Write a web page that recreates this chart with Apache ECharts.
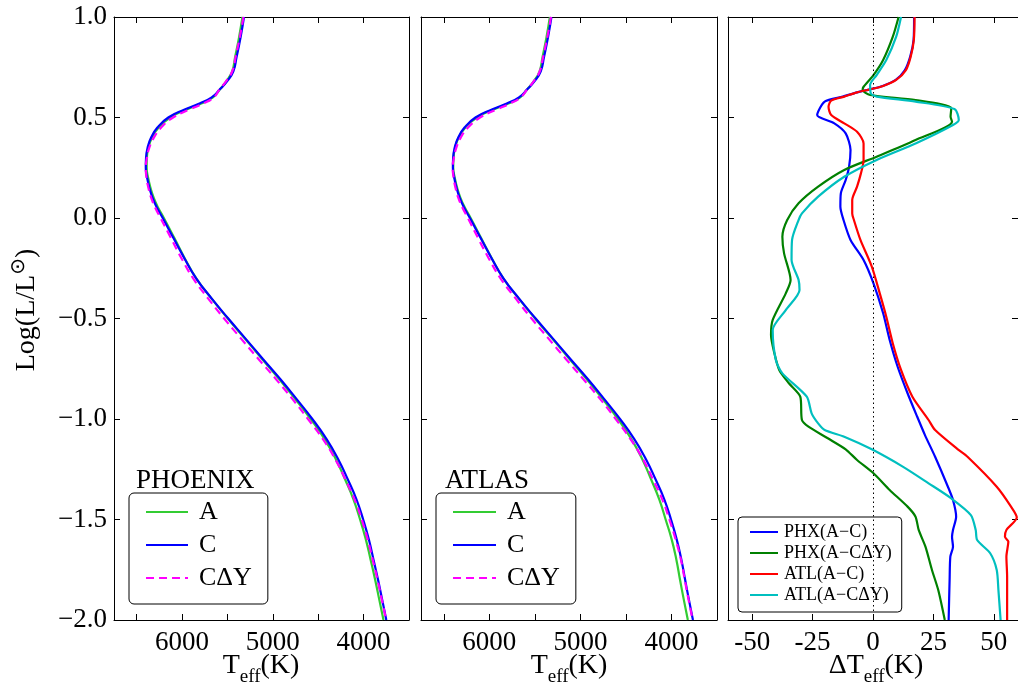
<!DOCTYPE html>
<html><head><meta charset="utf-8">
<script src="https://cdn.jsdelivr.net/npm/echarts@6/dist/echarts.min.js"></script>
<style>html,body{margin:0;padding:0;background:#fff}#c{width:1018px;height:690px}</style>
</head><body><div id="c"></div>
<script>
// ---- data ----
const logL = [1.0, 0.9, 0.8, 0.73, 0.68, 0.64, 0.6, 0.57, 0.54, 0.5,
  0.45, 0.4, 0.35, 0.3, 0.25, 0.2, 0.15, 0.1, 0.05, 0.0,
  -0.1, -0.2, -0.3, -0.4, -0.5, -0.6, -0.7, -0.8, -0.9, -1.0, -1.1, -1.2, -1.3, -1.4, -1.5, -1.6, -1.7, -1.8, -1.9, -2.0];
const phxA   = [5335,5372,5416,5448,5514,5583,5660,5788,5949,6131, 6258,6331,6371,6388,6390,6374,6348,6312,6262,6201,
  6085,5971,5844,5677,5496,5308,5121,4933,4755,4584,4430,4306,4205,4112,4039,3975,3923,3873,3827,3781];
const phxC   = [5318,5355,5400,5435,5505,5584,5674,5808,5971,6152, 6272,6341,6380,6397,6400,6385,6360,6325,6275,6213,
  6095,5975,5845,5675,5491,5301,5112,4921,4740,4565,4408,4280,4175,4079,4005,3942,3891,3841,3795,3750];
const phxCdY = [5324,5364,5411,5447,5516,5587,5652,5764,5917,6099, 6230,6311,6361,6387,6400,6392,6371,6340,6294,6237,
  6122,6007,5878,5714,5537,5350,5161,4969,4785,4613,4448,4313,4202,4100,4021,3955,3900,3847,3799,3751];
const atlA   = [5335,5372,5416,5448,5513,5583,5661,5790,5953,6137, 6263,6336,6376,6393,6396,6379,6353,6317,6266,6205,
  6090,5973,5846,5678,5497,5309,5122,4934,4757,4588,4440,4320,4224,4134,4064,3997,3946,3906,3864,3820];
const atlC   = [5318,5355,5400,5435,5505,5584,5674,5808,5971,6152, 6272,6341,6380,6397,6400,6385,6360,6325,6275,6213,
  6095,5975,5845,5675,5491,5301,5112,4921,4740,4565,4408,4280,4175,4079,4005,3942,3891,3850,3808,3764];
const atlCdY = [5323,5363,5410,5446,5513,5584,5657,5769,5919,6102, 6233,6314,6362,6389,6402,6392,6371,6340,6293,6235,
  6123,6007,5877,5711,5536,5350,5162,4971,4784,4612,4450,4313,4204,4101,4023,3954,3896,3854,3812,3767];

// Delta Teff panel: [dT, logL]
const phxAminusC = [[17.0,1.0],[16.8,0.886],[15.4,0.803],[13.2,0.736],[9.4,0.687],[4.0,0.657],[-1.2,0.64],[-6.6,0.625],
  [-12.5,0.604],[-20.0,0.579],[-23.1,0.512],[-16.0,0.471],[-11.3,0.421],[-9.3,0.338],[-9.9,0.255],[-11.3,0.189],
  [-13.3,0.123],[-13.5,0.056],[-12.2,-0.01],[-9.3,-0.109],[-3.9,-0.209],[0.2,-0.325],[4.2,-0.474],[6.9,-0.607],
  [10.2,-0.74],[14.3,-0.872],[18.3,-0.989],[21.5,-1.08],[25.7,-1.188],[31.0,-1.337],[33.1,-1.403],[34.4,-1.486],
  [33.1,-1.552],[32.7,-1.586],[33.1,-1.635],[32.0,-1.685],[31.7,-1.801],[31.3,-2.0]];
const phxAminusCdY = [[10.6,1.0],[8.2,0.902],[4.2,0.786],[0.2,0.711],[-3.9,0.653],[-4.3,0.637],[-1.2,0.612],[17.6,0.587],
  [32.4,0.546],[32.1,0.504],[32.7,0.479],[17.6,0.388],[1.5,0.305],[-11.9,0.239],[-22.7,0.156],[-30.8,0.073],
  [-35.5,-0.01],[-37.5,-0.093],[-36.8,-0.176],[-34.1,-0.308],[-36.1,-0.375],[-41.5,-0.507],[-42.2,-0.582],
  [-40.8,-0.673],[-38.8,-0.756],[-34.8,-0.822],[-30.1,-0.889],[-29.4,-1.005],[-26.7,-1.038],[-18.7,-1.096],
  [-11.3,-1.151],[-6.6,-1.204],[0.2,-1.27],[6.9,-1.353],[14.3,-1.436],[17.6,-1.486],[18.9,-1.552],[21.7,-1.635],
  [24.4,-1.751],[27.0,-1.851],[29.7,-2.0]];
const atlAminusC = [[17.2,1.0],[16.9,0.886],[15.6,0.803],[13.6,0.736],[9.6,0.687],[4.2,0.657],[-1.2,0.64],[-6.6,0.625],
  [-11.9,0.604],[-17.3,0.584],[-18.4,0.554],[-17.3,0.512],[-11.9,0.471],[-6.6,0.429],[-3.9,0.371],[-3.9,0.289],
  [-5.0,0.222],[-6.6,0.156],[-8.6,0.09],[-8.6,0.023],[-7.9,-0.01],[-5.2,-0.109],[-0.5,-0.242],[2.8,-0.375],
  [5.5,-0.491],[8.2,-0.624],[11.6,-0.756],[16.3,-0.889],[23.0,-1.005],[25.7,-1.055],[35.1,-1.151],[39.1,-1.188],
  [51.2,-1.337],[57.1,-1.436],[59.5,-1.49],[55.2,-1.552],[54.6,-1.586],[56.0,-1.61],[55.2,-1.685],[55.5,-1.784],[55.5,-2.0]];
const atlAminusCdY = [[11.6,1.0],[9.6,0.902],[5.5,0.786],[1.5,0.711],[-1.2,0.662],[-0.9,0.62],[1.5,0.604],[17.6,0.579],
  [33.7,0.542],[35.5,0.488],[33.1,0.463],[17.6,0.371],[1.5,0.289],[-11.9,0.205],[-22.7,0.106],[-29.4,0.023],
  [-30.8,-0.01],[-33.5,-0.109],[-33.7,-0.209],[-30.8,-0.308],[-30.4,-0.358],[-36.1,-0.458],[-41.5,-0.557],
  [-40.2,-0.706],[-37.5,-0.773],[-27.4,-0.889],[-25.4,-0.972],[-22.7,-1.022],[-20.0,-1.055],[-11.9,-1.088],
  [-0.5,-1.151],[12.3,-1.237],[23.0,-1.32],[32.4,-1.395],[40.5,-1.478],[42.5,-1.552],[43.1,-1.602],[48.5,-1.668],
  [51.2,-1.751],[51.9,-1.851],[52.8,-2.0]];

const hrTickValues = [4000, 4500, 5000, 5500, 6000, 6500];
const hrLabelValues = [4000, 5000, 6000];
const dTickValues = [-50, -25, 0, 25, 50];
const hrNames = ['A', 'C', 'C\u0394Y'];
const dNames = ['PHX(A\u2212C)', 'PHX(A\u2212C\u0394Y)', 'ATL(A\u2212C)', 'ATL(A\u2212C\u0394Y)'];

// ---- chart ----
const FONT = 'Liberation Serif';
const chart = echarts.init(document.getElementById('c'), null, {renderer: 'canvas'});
const pair = (t) => logL.map((l, i) => [t[i], l]);
const frameLine = {show: true, onZero: false, lineStyle: {color: '#000', width: 1}};
const tick = (vals) => ({show: true, inside: true, length: 6, lineStyle: {color: '#000', width: 1}, customValues: vals});
const yFmt = (v) => (v < 0 ? '\u2212' : '') + Math.abs(v).toFixed(1);

function xPair(gi, isHR) {
  const base = isHR ? {type: 'value', min: 3500, max: 6750, inverse: true}
                    : {type: 'value', min: -60, max: 60};
  const ticks = isHR ? hrTickValues : dTickValues;
  const labs = isHR ? hrLabelValues : dTickValues;
  return [
    Object.assign({}, base, {gridIndex: gi, position: 'bottom', axisLine: frameLine, splitLine: {show: false},
      axisTick: tick(ticks),
      axisLabel: {show: true, customValues: labs, margin: 9, color: '#000', fontFamily: FONT, fontSize: 27,
        formatter: (v) => (v < 0 ? '-' + Math.abs(v) : String(v))}}),
    Object.assign({}, base, {gridIndex: gi, position: 'top', axisLine: frameLine, splitLine: {show: false},
      axisTick: tick(ticks), axisLabel: {show: false}})
  ];
}
function yPair(gi, labels) {
  const base = {type: 'value', min: -2, max: 1, interval: 0.5, gridIndex: gi, splitLine: {show: false}, axisLine: frameLine,
    axisTick: {show: true, inside: true, length: 6, lineStyle: {color: '#000'}}};
  return [
    Object.assign({}, base, {position: 'left',
      axisLabel: {show: labels, margin: 7, color: '#000', fontFamily: FONT, fontSize: 27, formatter: yFmt}}),
    Object.assign({}, base, {position: 'right', axisLabel: {show: false}})
  ];
}

const hrSeries = (names, data, xi, yi) => [
  {name: names[0], type: 'line', xAxisIndex: xi, yAxisIndex: yi, data: pair(data[0]), symbol: 'none', smooth: 0.5,
    lineStyle: {color: '#33cc33', width: 2.2}, itemStyle: {color: '#33cc33'}, z: 2},
  {name: names[1], type: 'line', xAxisIndex: xi, yAxisIndex: yi, data: pair(data[1]), symbol: 'none', smooth: 0.5,
    lineStyle: {color: '#0000ff', width: 2.2}, itemStyle: {color: '#0000ff'}, z: 3},
  {name: names[2], type: 'line', xAxisIndex: xi, yAxisIndex: yi, data: pair(data[2]), symbol: 'none', smooth: 0.5,
    lineStyle: {color: '#ff00ff', width: 2.2, type: [8, 5]}, itemStyle: {color: '#ff00ff'}, z: 4}
];
const dColors = ['#0000ff', '#008000', '#ff0000', '#00bfbf'];
const dData = [phxAminusC, phxAminusCdY, atlAminusC, atlAminusCdY];
const dSeries = dNames.map((n, i) => ({
  name: n, type: 'line', xAxisIndex: 4, yAxisIndex: 4, data: dData[i], symbol: 'none', smooth: 0.25,
  lineStyle: {color: dColors[i], width: 2.2}, itemStyle: {color: dColors[i]}, z: 3 + i,
  markLine: i === 0 ? {silent: true, symbol: ['none', 'none'], label: {show: false}, animation: false,
    lineStyle: {color: '#000', type: [1.5, 3], width: 1}, data: [{xAxis: 0}]} : undefined
}));

const legendText = {fontFamily: FONT, fontSize: 26, lineHeight: 26, color: '#000', padding: [0, 0, 0, 6]};
const noSymbol = {opacity: 0};
const mainRich = {fontFamily: FONT, fontSize: 28, lineHeight: 32, color: '#000', verticalAlign: 'top'};
const subRich = {fontFamily: FONT, fontSize: 19, lineHeight: 19, color: '#000', padding: [19, 0, 0, 0]};

chart.setOption({
  animation: false,
  backgroundColor: '#fff',
  grid: [
    {left: 114, top: 17, width: 295, height: 603},
    {left: 421, top: 17, width: 296, height: 603},
    {left: 728, top: 17, width: 296, height: 603}
  ],
  xAxis: [...xPair(0, true), ...xPair(1, true), ...xPair(2, false)],
  yAxis: [...yPair(0, true), ...yPair(1, false), ...yPair(2, false)],
  legend: [
    {data: hrNames, orient: 'vertical', left: 129, top: 493, itemWidth: 42, itemHeight: 14, itemGap: 7,
      padding: [6, 16, 13, 16], borderColor: '#000', borderWidth: 1, borderRadius: 5, selectedMode: false,
      itemStyle: noSymbol, textStyle: legendText},
    {data: hrNames, orient: 'vertical', left: 436, top: 493, itemWidth: 43, itemHeight: 14, itemGap: 7,
      padding: [6, 16, 13, 16], borderColor: '#000', borderWidth: 1, borderRadius: 5, selectedMode: false,
      itemStyle: noSymbol, textStyle: legendText},
    {data: dNames, orient: 'vertical', left: 738, top: 517, itemWidth: 28, itemHeight: 10, itemGap: 3,
      padding: [6, 10, 8, 11], borderColor: '#000', borderWidth: 1, borderRadius: 4, selectedMode: false,
      itemStyle: noSymbol,
      textStyle: {fontFamily: FONT, fontSize: 18, lineHeight: 18, color: '#000', padding: [0, 0, 0, 1]}}
  ],
  graphic: [
    {type: 'text', x: 136, y: 481, style: {text: 'PHOENIX', fontFamily: FONT, fontSize: 27, fill: '#000', verticalAlign: 'middle'}},
    {type: 'text', x: 445, y: 481, style: {text: 'ATLAS', fontFamily: FONT, fontSize: 27, fill: '#000', verticalAlign: 'middle'}},
    {type: 'text', x: 261, y: 668, style: {text: '{m|T}{s|eff}{m|(K)}', align: 'center', verticalAlign: 'middle',
      rich: {m: mainRich, s: subRich}}},
    {type: 'text', x: 569, y: 668, style: {text: '{m|T}{s|eff}{m|(K)}', align: 'center', verticalAlign: 'middle',
      rich: {m: mainRich, s: subRich}}},
    {type: 'text', x: 876, y: 668, style: {text: '{m|\u0394T}{s|eff}{m|(K)}', align: 'center', verticalAlign: 'middle',
      rich: {m: mainRich, s: subRich}}},
    {type: 'text', x: 25, y: 310, rotation: Math.PI / 2, style: {text: '{m|Log(L/L}{u|\u2299}{m|)}', align: 'center', verticalAlign: 'middle',
      rich: {m: {fontFamily: FONT, fontSize: 28, lineHeight: 32, color: '#000', verticalAlign: 'bottom'},
             u: {fontFamily: 'DejaVu Sans', fontSize: 20, lineHeight: 20, color: '#000', verticalAlign: 'top', padding: [0, 0, 11, 0]}}}}
  ],
  series: [
    ...hrSeries(hrNames, [phxA, phxC, phxCdY], 0, 0),
    ...hrSeries(hrNames, [atlA, atlC, atlCdY], 2, 2),
    ...dSeries
  ]
});
</script></body></html>
